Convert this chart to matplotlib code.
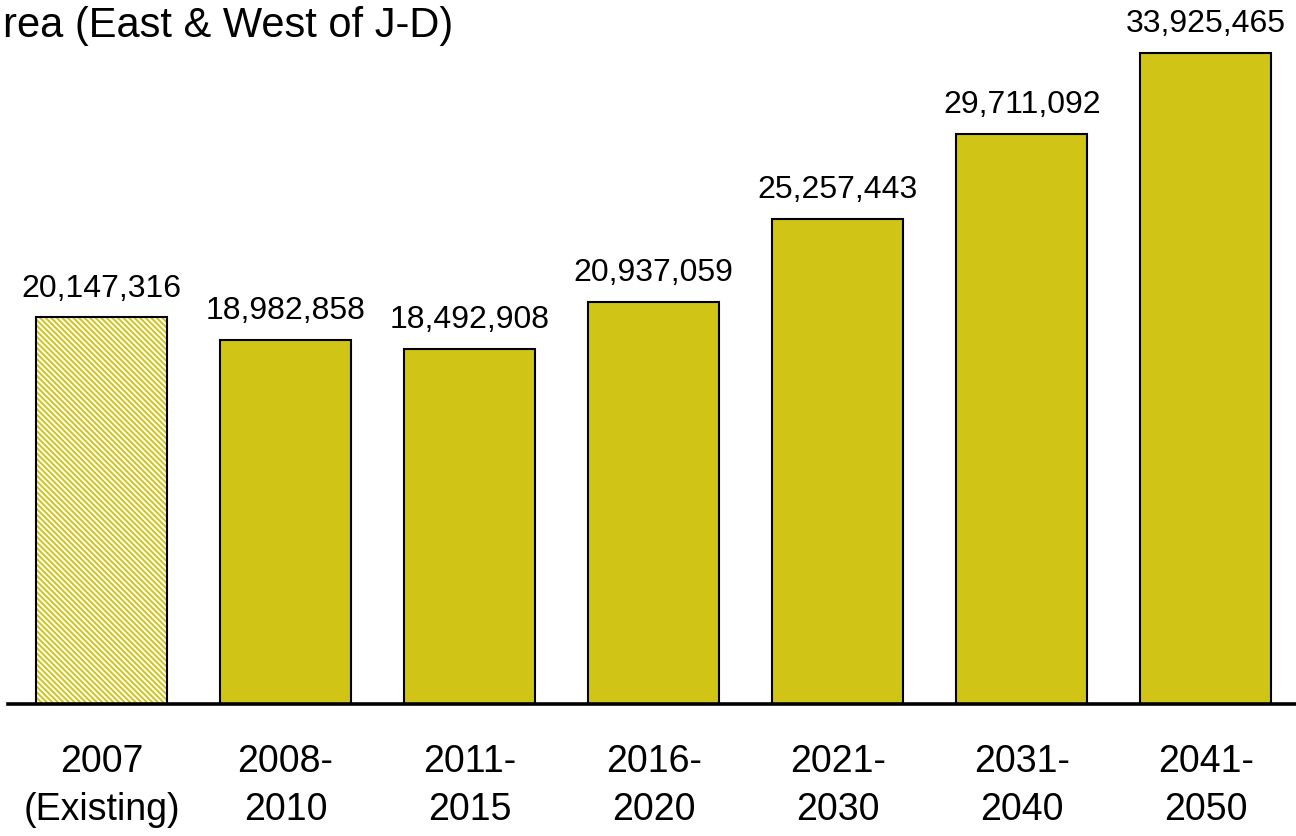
import matplotlib
matplotlib.use("Agg")
import matplotlib.pyplot as plt

periods = ["2007\n(Existing)", "2008-\n2010", "2011-\n2015", "2016-\n2020",
           "2021-\n2030", "2031-\n2040", "2041-\n2050"]
values = [20147316, 18982858, 18492908, 20937059, 25257443, 29711092, 33925465]
title = "rea (East & West of J-D)"

bar_color = "#D0C416"

plt.rcParams["font.family"] = ["Liberation Sans", "DejaVu Sans"]
plt.rcParams["hatch.linewidth"] = 1.4

fig = plt.figure(figsize=(12.96, 8.36), dpi=100)
ax = fig.add_axes([8 / 1296, 132 / 836, 1288 / 1296, 704 / 836])

x = list(range(len(values)))
width = 0.712

# first period is the existing count, drawn hatched
ax.bar(x[0], values[0], width, color="white", edgecolor=bar_color,
       hatch="\\" * 6, linewidth=0)
ax.bar(x[0], values[0], width, facecolor="none", edgecolor="black", linewidth=1.5)
ax.bar(x[1:], values[1:], width, color=bar_color, edgecolor="black", linewidth=1.5)

for xi, v in zip(x, values):
    ax.annotate(f"{v:,}", (xi, v), xytext=(0, 15), textcoords="offset points",
                ha="center", va="baseline", fontsize=23)

ax.set_xlim(-0.508, 6.49)
ax.set_ylim(0, 704 / 651 * max(values))

for s in ["top", "right", "left"]:
    ax.spines[s].set_visible(False)
ax.spines["bottom"].set_linewidth(2.6)
ax.set_yticks([])
ax.set_xticks(x)
ax.set_xticklabels(periods, fontsize=27, linespacing=1.42)
ax.tick_params(axis="x", length=0, pad=29)

fig.text(453 / 1296, 1 - 6 / 836, title, ha="right", va="top", fontsize=30)

fig.savefig("out.png", dpi=100)
